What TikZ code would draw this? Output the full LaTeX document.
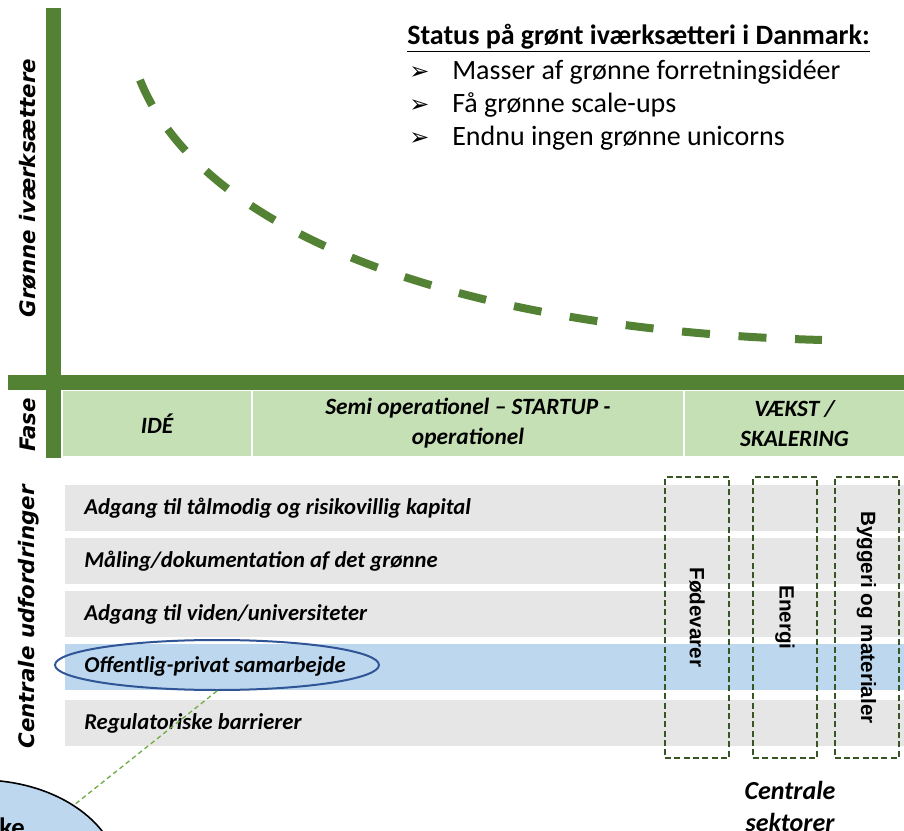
\documentclass[tikz,border=0pt]{standalone}
\usepackage{fontspec}
\setmainfont{Carlito}
\newfontfamily\verd{DejaVu Sans}
\newfontfamily\arialf{Liberation Sans}
\newfontfamily\symf{DejaVu Sans}
\usetikzlibrary{shapes.geometric}
\definecolor{axgreen}{HTML}{548235}
\definecolor{phgreen}{HTML}{C5E0B4}
\definecolor{rowgray}{HTML}{E7E6E6}
\definecolor{rowblue}{HTML}{BDD7EE}
\definecolor{ellblue}{HTML}{2F5597}
\definecolor{secgreen}{HTML}{375623}
\definecolor{lnkgreen}{HTML}{70AD47}
\tikzset{
  phasecell/.style={fill=phgreen, inner sep=0pt, minimum height=48.75pt, align=center,
    font=\bfseries\itshape\fontsize{17.5}{22.5}\selectfont},
  rowbox/.style={inner sep=0pt, minimum width=629.25pt, minimum height=34.5pt},
  rowtext/.style={anchor=west, inner sep=0pt, font=\bfseries\itshape\fontsize{17}{20}\selectfont},
  secbox/.style={draw=secgreen, line width=1.5pt, dash pattern=on 4.5pt off 2.5pt,
    inner sep=0pt, minimum width=48pt, minimum height=210.75pt},
  sectext/.style={rotate=-90, inner sep=0pt, font=\arialf\bfseries\fontsize{15.5}{18}\selectfont},
  sidelabel/.style={rotate=90, inner sep=0pt, font=\verd\bfseries\itshape\fontsize{16}{19}\selectfont},
  bullettext/.style={anchor=base west, inner sep=0pt, font=\fontsize{21}{25}\selectfont},
  bulletmark/.style={anchor=base west, inner sep=0pt, font=\symf\fontsize{18}{21}\selectfont}
}
\begin{document}
\begin{tikzpicture}[x=0.75pt,y=-0.75pt]
\useasboundingbox (0,0) rectangle (904,831);

% axes
\fill[axgreen] (46,8) rectangle (61,458);
\fill[axgreen] (8,375) rectangle (904,390);

% phase row
\node[phasecell, minimum width=141pt] (ide) at (157,423.5) {IDÉ};
\node[phasecell, minimum width=322.5pt] (semi) at (468,423.5) {Semi operationel – STARTUP -\\operationel};
\node[phasecell, minimum width=164.25pt] (vaekst) at (794.5,423.5) {VÆKST /\\SKALERING};

% side labels
\node[sidelabel] (lgron) at (28,188) {Grønne iværksættere};
\node[sidelabel] (lfase) at (28,425) {Fase};
\node[sidelabel] (ludf) at (29,617) {Centrale udfordringer};

% challenge rows
\node[rowbox, fill=rowgray] (r1) at (484.5,508) {};
\node[rowbox, fill=rowgray] (r2) at (484.5,561) {};
\node[rowbox, fill=rowgray] (r3) at (484.5,614) {};
\node[rowbox, fill=rowblue] (r4) at (484.5,667) {};
\node[rowbox, fill=rowgray] (r5) at (484.5,723) {};
\node[rowtext] (t1) at (84,508) {Adgang til tålmodig og risikovillig kapital};
\node[rowtext] (t2) at (84,561) {Måling/dokumentation af det grønne};
\node[rowtext] (t3) at (84,614) {Adgang til viden/universiteter};
\node[rowtext] (t4) at (84,666) {Offentlig-privat samarbejde};
\node[rowtext] (t5) at (84,723) {Regulatoriske barrierer};

% highlight ellipse
\node[ellipse, draw=ellblue, line width=1.5pt, inner sep=0pt,
  minimum width=243pt, minimum height=37.5pt] (hl) at (217,665) {};

% big ellipse bottom-left
\node[ellipse, draw=black, line width=1.2pt, fill=rowblue, inner sep=0pt,
  minimum width=210pt, minimum height=150pt] (big) at (-20,880) {};
\node[anchor=base west, inner sep=0pt, font=\bfseries\fontsize{20}{24}\selectfont] (bigtext) at (-1,836) {ke};
\draw[lnkgreen, line width=1pt, dash pattern=on 3.5pt off 2.5pt] (hl.south) -- (big);

% sector boxes
\node[secbox] (fod) at (697,617.5) {};
\node[secbox] (ene) at (785,617.5) {};
\node[secbox] (byg) at (866.5,617.5) {};
\node[sectext] (tfod) at (fod.center) {Fødevarer};
\node[sectext] (tene) at (ene.center) {Energi};
\node[sectext] (tbyg) at (byg.center) {Byggeri og materialer};
\node[align=center, inner sep=0pt, font=\bfseries\itshape\fontsize{19.5}{24}\selectfont] (sek) at (790,806) {Centrale\\sektorer};

% curve
\draw[axgreen, line width=6pt, dash pattern=on 21pt off 21.5pt] (140,80) .. controls (200,230) and (450,330) .. (822,340);

% status text
\node[anchor=base west, inner sep=0pt, font=\bfseries\fontsize{21}{25}\selectfont] (title) at (407,45) {\underline{Status på grønt iværksætteri i Danmark:}};
\node[bulletmark] (b1) at (409,80) {➢};
\node[bulletmark] (b2) at (409,113) {➢};
\node[bulletmark] (b3) at (409,146) {➢};
\node[bullettext] (s1) at (452,80) {Masser af grønne forretningsidéer};
\node[bullettext] (s2) at (452,113) {Få grønne scale-ups};
\node[bullettext] (s3) at (452,146) {Endnu ingen grønne unicorns};
\end{tikzpicture}
\end{document}
